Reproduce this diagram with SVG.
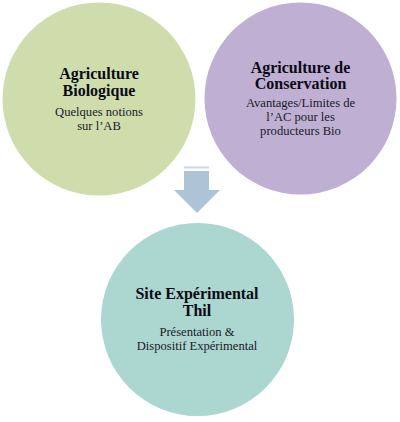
<svg xmlns="http://www.w3.org/2000/svg" width="400" height="422" viewBox="0 0 400 422">
<style>
.t{font-family:"Liberation Serif","Times New Roman",serif;font-weight:bold;font-size:16px;fill:#0a0a14;text-anchor:middle}
.s{font-family:"Liberation Serif","Times New Roman",serif;font-size:12.6px;fill:#1a1a2a;text-anchor:middle}
</style>
<rect width="400" height="422" fill="#ffffff"/>
<g id="connectors">
<rect x="184" y="166.5" width="25" height="2" fill="#c9d7e3"/>
<path d="M184,171 H209 V190 H220 L197,213 L174,190 H184 Z" fill="#adc4d6"/>
</g>
<g id="node-bio">
<circle cx="99" cy="99" r="96.5" fill="#cfddac"/>
<text class="t" x="99" y="79">Agriculture</text>
<text class="t" x="99" y="96">Biologique</text>
<text class="s" x="99" y="115.5">Quelques notions</text>
<text class="s" x="99" y="129.5">sur l’AB</text>
</g>
<g id="node-ac">
<circle cx="300.5" cy="98.5" r="96" fill="#bfb0d3"/>
<text class="t" x="300.5" y="73">Agriculture de</text>
<text class="t" x="300.5" y="89">Conservation</text>
<text class="s" x="300.5" y="107">Avantages/Limites de</text>
<text class="s" x="300.5" y="121">l’AC pour les</text>
<text class="s" x="300.5" y="135">producteurs Bio</text>
</g>
<g id="node-thil">
<circle cx="197.5" cy="319.5" r="96.5" fill="#acd6d0"/>
<text class="t" x="197" y="299">Site Expérimental</text>
<text class="t" x="197" y="316">Thil</text>
<text class="s" x="197" y="335.5">Présentation &amp;</text>
<text class="s" x="197" y="349.5">Dispositif Expérimental</text>
</g>
</svg>
